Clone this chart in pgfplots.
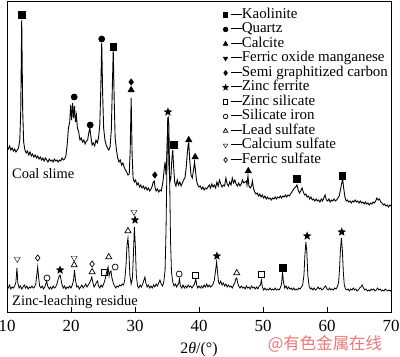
\documentclass[border=0pt]{standalone}
\usepackage{pgfplots}
\pgfplotsset{compat=1.18}
\usepackage{fontspec}
\setmainfont{Liberation Serif}
\newfontfamily\cjk{Noto Sans CJK SC}
\definecolor{wm}{RGB}{236,118,118}
\pgfdeclareplotmark{fstar}{%
  \pgfpathmoveto{\pgfqpointpolar{90}{\pgfplotmarksize}}%
  \pgfpathlineto{\pgfqpointpolar{126}{0.42\pgfplotmarksize}}%
  \pgfpathlineto{\pgfqpointpolar{162}{\pgfplotmarksize}}%
  \pgfpathlineto{\pgfqpointpolar{198}{0.42\pgfplotmarksize}}%
  \pgfpathlineto{\pgfqpointpolar{234}{\pgfplotmarksize}}%
  \pgfpathlineto{\pgfqpointpolar{270}{0.42\pgfplotmarksize}}%
  \pgfpathlineto{\pgfqpointpolar{306}{\pgfplotmarksize}}%
  \pgfpathlineto{\pgfqpointpolar{342}{0.42\pgfplotmarksize}}%
  \pgfpathlineto{\pgfqpointpolar{18}{\pgfplotmarksize}}%
  \pgfpathlineto{\pgfqpointpolar{54}{0.42\pgfplotmarksize}}%
  \pgfpathclose\pgfusepathqfillstroke}
\pgfplotsset{
  mylegend/.style={legend image code/.code={%
    \draw[##1] plot coordinates {(0bp,0bp)};}},
}
\newcommand{\dash}{\rule[3.8bp]{11bp}{0.8bp}}
\begin{document}
\begin{tikzpicture}
\begin{axis}[
  name=ax,
  scale only axis, width=384bp, height=311bp,
  xmin=10, xmax=70, ymin=1, ymax=312, y dir=reverse,
  axis line style={line width=0.9bp},
  xtick={10,20,...,70}, ytick=\empty, xtick pos=left,
  tick align=inside, major tick length=5bp,
  tick style={line width=0.8bp, black},
  /pgf/number format/assume math mode=true,
  xticklabel style={font=\fontsize{17}{18}\selectfont, anchor=base, inner sep=0pt, yshift=-19bp},
  xlabel={\fontsize{16}{18}\selectfont 2\textit{θ}/(°)},
  xlabel style={at={(axis description cs:0.5,0)}, anchor=base, inner sep=0pt, yshift=-41.5bp},
  legend style={draw=none, fill=none, at={(0.554,0.9855)}, anchor=north west,
    font=\fontsize{15}{14.5}\selectfont, row sep=0pt, column sep=2.6bp,
    nodes={inner sep=0pt, text height=10.5bp, text depth=4bp}},
  legend cell align=left,
  mark options={solid, line width=0.7bp},
]
% legend
\addlegendimage{only marks, mark=square*, mark size=2.2bp, fill=black, mylegend}
\addlegendentry{\dash Kaolinite}
\addlegendimage{only marks, mark=*, mark size=2.3bp, fill=black, mylegend}
\addlegendentry{\dash Quartz}
\addlegendimage{only marks, mark=triangle*, mark size=2.6bp, fill=black, mylegend}
\addlegendentry{\dash Calcite}
\addlegendimage{only marks, mark=triangle*, mark size=2.6bp, mark options={rotate=180}, fill=black, mylegend}
\addlegendentry{\dash Ferric oxide manganese}
\addlegendimage{only marks, mark=diamond*, mark size=2.4bp, fill=black, mylegend}
\addlegendentry{\dash Semi graphitized carbon}
\addlegendimage{only marks, mark=fstar, mark size=2.8bp, fill=black, mylegend}
\addlegendentry{\dash Zinc ferrite}
\addlegendimage{only marks, mark=square, mark size=2.2bp, mylegend}
\addlegendentry{\dash Zinc silicate}
\addlegendimage{only marks, mark=o, mark size=2.3bp, mylegend}
\addlegendentry{\dash Silicate iron}
\addlegendimage{only marks, mark=triangle, mark size=2.6bp, mylegend}
\addlegendentry{\dash Lead sulfate}
\addlegendimage{only marks, mark=triangle, mark size=2.6bp, mark options={rotate=180}, mylegend}
\addlegendentry{\dash Calcium sulfate}
\addlegendimage{only marks, mark=diamond, mark size=2.4bp, mylegend}
\addlegendentry{\dash Ferric sulfate}

% Coal slime
\addplot[black, line width=0.9bp, forget plot] coordinates {
(10.0,147)(10.2,149)(10.4,146)(10.6,150)(10.8,148)(11.0,151)(11.2,149)(11.4,152)(11.6,150)(11.8,148)
(12.0,140)(12.15,110)(12.3,20)(12.45,110)(12.6,142)(12.8,150)(13.0,153)(13.2,151)(13.4,155)(13.6,152)
(13.8,156)(14.0,154)(14.2,157)(14.4,155)(14.6,158)(14.8,156)(15.0,159)(15.2,157)(15.4,160)(15.6,158)
(15.8,161)(16.0,158)(16.2,160)(16.4,162)(16.6,159)(16.8,161)(17.0,160)(17.2,162)(17.4,159)(17.6,161)
(17.8,160)(18.0,162)(18.2,160)(18.4,161)(18.6,158)(18.8,160)(19.0,159)(19.2,156)(19.4,145)(19.6,128)
(19.8,122)(19.95,105)(20.1,120)(20.25,103)(20.4,118)(20.55,106)(20.7,122)(20.85,115)(21.0,128)(21.2,132)
(21.4,140)(21.6,138)(21.8,142)(22.0,140)(22.2,144)(22.4,141)(22.6,140)(22.8,132)(22.95,128)(23.1,136)
(23.3,145)(23.5,143)(23.7,146)(23.9,140)(24.1,143)(24.3,138)(24.5,125)(24.65,90)(24.8,43)(24.95,95)
(25.1,128)(25.3,140)(25.5,145)(25.7,148)(25.9,150)(26.1,147)(26.3,130)(26.45,90)(26.6,50)(26.75,100)
(26.9,138)(27.1,150)(27.3,158)(27.5,162)(27.7,160)(27.9,165)(28.1,163)(28.3,167)(28.5,170)(28.7,172)
(28.9,175)(29.1,174)(29.25,150)(29.4,98)(29.55,155)(29.7,178)(29.9,182)(30.1,180)(30.3,185)(30.5,183)
(30.7,187)(30.9,185)(31.1,188)(31.3,186)(31.5,189)(31.7,187)(31.9,190)(32.1,188)(32.3,191)(32.5,189)
(32.7,186)(32.85,182)(33.0,181)(33.15,188)(33.3,191)(33.5,189)(33.7,192)(33.9,190)(34.1,191)(34.25,186)
(34.4,180)(34.55,170)(34.7,162)(34.85,175)(35.0,150)(35.15,117)(35.3,165)(35.45,182)(35.6,178)(35.75,160)
(35.9,150)(36.05,168)(36.2,182)(36.4,186)(36.6,180)(36.8,185)(37.0,182)(37.2,186)(37.4,183)(37.6,180)
(37.8,178)(38.0,168)(38.15,155)(38.3,145)(38.4,143)(38.55,160)(38.75,175)(38.95,178)(39.15,170)(39.3,162)
(39.45,170)(39.6,180)(39.8,185)(40.0,187)(40.2,186)(40.4,189)(40.6,187)(40.8,190)(41.0,188)(41.2,189)
(41.4,187)(41.6,185)(41.8,188)(42.0,184)(42.2,187)(42.4,185)(42.6,188)(42.8,182)(43.0,186)(43.2,180)
(43.4,184)(43.6,187)(43.8,185)(44.0,186)(44.2,178)(44.4,184)(44.6,186)(44.8,182)(45.0,185)(45.2,178)
(45.4,183)(45.6,180)(45.8,184)(46.0,186)(46.2,183)(46.4,186)(46.6,184)(46.8,180)(47.0,183)(47.2,182)
(47.4,181)(47.5,185)(47.65,176)(47.8,186)(48.0,188)(48.2,186)(48.35,181)(48.5,188)(48.7,192)(48.9,194)
(49.1,193)(49.3,196)(49.5,194)(49.7,197)(49.9,195)(50.1,198)(50.3,196)(50.5,199)(50.7,197)(50.9,199)
(51.1,198)(51.3,200)(51.5,198)(51.7,199)(51.9,197)(52.1,199)(52.3,197)(52.5,198)(52.7,196)(52.9,198)
(53.1,196)(53.3,197)(53.5,195)(53.7,197)(53.9,195)(54.1,196)(54.3,194)(54.5,192)(54.7,190)(54.9,188)
(55.1,187)(55.3,185)(55.5,190)(55.7,193)(55.9,191)(56.1,188)(56.3,192)(56.5,195)(56.7,194)(56.9,197)
(57.1,196)(57.3,199)(57.5,197)(57.7,200)(57.9,199)(58.1,201)(58.3,199)(58.5,201)(58.7,200)(58.9,202)
(59.1,199)(59.3,201)(59.5,198)(59.7,195)(59.9,200)(60.1,201)(60.3,199)(60.5,202)(60.7,200)(60.9,201)
(61.1,199)(61.3,201)(61.5,200)(61.7,198)(61.9,196)(62.1,190)(62.3,183)(62.45,179)(62.6,188)(62.8,197)
(63.0,201)(63.2,200)(63.4,202)(63.6,201)(63.8,203)(64.0,201)(64.2,202)(64.4,200)(64.6,202)(64.8,201)
(65.0,203)(65.2,201)(65.4,203)(65.6,202)(65.8,204)(66.0,202)(66.2,204)(66.4,203)(66.6,205)(66.8,203)
(67.0,204)(67.2,202)(67.4,203)(67.6,201)(67.8,198)(68.0,200)(68.2,199)(68.4,202)(68.6,203)(68.8,205)
(69.0,204)(69.2,206)(69.4,205)(69.6,207)(69.8,205)(70.0,206)
};
% Zinc-leaching residue
\addplot[black, line width=0.8bp, forget plot] coordinates {
(10.0,286)(10.2,288)(10.4,285)(10.6,289)(10.8,287)(11.0,288)(11.2,286)(11.4,282)(11.55,268)(11.7,283)
(11.9,288)(12.1,286)(12.3,289)(12.5,287)(12.7,285)(12.9,288)(13.1,286)(13.3,289)(13.5,287)(13.7,288)
(13.9,286)(14.1,288)(14.3,287)(14.5,284)(14.65,275)(14.8,267)(14.95,278)(15.1,286)(15.3,288)(15.5,286)
(15.7,289)(15.9,287)(16.05,284)(16.2,281)(16.35,286)(16.6,289)(16.8,287)(17.0,289)(17.2,286)(17.4,288)
(17.6,287)(17.8,284)(18.0,279)(18.15,276)(18.3,275)(18.45,280)(18.6,285)(18.8,288)(19.0,286)(19.2,289)
(19.4,287)(19.6,288)(19.8,286)(20.0,288)(20.2,285)(20.4,280)(20.55,270)(20.7,280)(20.9,287)(21.1,286)
(21.3,289)(21.5,287)(21.7,285)(21.9,288)(22.1,286)(22.3,284)(22.5,287)(22.7,285)(22.9,283)(23.1,280)
(23.25,277)(23.4,282)(23.6,287)(23.8,285)(24.0,282)(24.15,281)(24.3,286)(24.5,288)(24.7,285)(24.9,287)
(25.1,284)(25.3,280)(25.5,274)(25.65,270)(25.8,267)(25.95,276)(26.1,272)(26.25,271)(26.4,278)(26.6,283)
(26.8,286)(27.0,288)(27.2,286)(27.4,287)(27.6,285)(27.8,286)(28.0,284)(28.2,285)(28.4,280)(28.6,265)
(28.75,245)(28.9,238)(29.05,252)(29.2,275)(29.4,284)(29.6,278)(29.75,255)(29.9,227)(30.05,245)(30.2,275)
(30.4,286)(30.6,288)(30.8,285)(31.0,287)(31.2,284)(31.4,280)(31.55,277)(31.7,283)(31.9,287)(32.1,285)
(32.3,288)(32.5,286)(32.7,288)(32.9,285)(33.1,287)(33.3,284)(33.5,286)(33.7,283)(33.9,280)(34.1,284)
(34.3,286)(34.5,282)(34.7,270)(34.85,230)(35.0,160)(35.1,122)(35.2,118)(35.3,125)(35.4,170)(35.55,240)
(35.7,272)(35.9,282)(36.1,286)(36.3,284)(36.5,287)(36.65,285)(36.8,284)(36.95,279)(37.1,286)(37.3,288)
(37.5,285)(37.7,288)(37.9,286)(38.1,288)(38.3,285)(38.5,287)(38.7,286)(38.9,288)(39.1,286)(39.3,284)
(39.5,279)(39.65,285)(39.8,288)(40.0,286)(40.2,288)(40.4,286)(40.6,288)(40.8,285)(41.0,287)(41.2,284)
(41.4,287)(41.6,285)(41.8,287)(42.0,286)(42.2,284)(42.4,280)(42.6,270)(42.75,262)(42.9,272)(43.05,282)
(43.2,284)(43.4,281)(43.6,285)(43.8,283)(44.0,286)(44.2,284)(44.4,287)(44.6,285)(44.8,287)(45.0,286)
(45.2,288)(45.4,285)(45.6,283)(45.75,279)(45.9,278)(46.05,283)(46.2,286)(46.4,288)(46.6,286)(46.8,288)
(47.0,287)(47.2,289)(47.4,286)(47.6,288)(47.8,287)(48.0,289)(48.2,286)(48.4,288)(48.6,287)(48.8,289)
(49.0,287)(49.2,289)(49.4,286)(49.6,285)(49.75,280)(49.9,287)(50.1,290)(50.3,288)(50.5,290)(50.7,289)
(50.9,290)(51.1,288)(51.3,290)(51.5,289)(51.7,290)(51.9,288)(52.1,290)(52.3,289)(52.5,290)(52.7,288)
(52.9,284)(53.05,272)(53.2,282)(53.4,288)(53.6,286)(53.8,289)(54.0,287)(54.2,289)(54.4,288)(54.6,290)
(54.8,288)(55.0,290)(55.2,289)(55.4,290)(55.6,288)(55.8,289)(56.0,287)(56.2,285)(56.4,275)(56.55,255)
(56.7,242)(56.85,252)(57.0,275)(57.2,286)(57.4,289)(57.6,288)(57.8,290)(58.0,288)(58.2,290)(58.4,289)
(58.6,287)(58.8,289)(59.0,288)(59.2,290)(59.4,289)(59.6,287)(59.8,286)(60.0,289)(60.2,290)(60.4,288)
(60.6,290)(60.8,289)(61.0,290)(61.2,288)(61.4,289)(61.6,287)(61.8,283)(61.95,270)(62.1,250)(62.25,238)
(62.4,250)(62.55,272)(62.7,285)(62.9,289)(63.1,290)(63.3,289)(63.5,291)(63.7,289)(63.9,290)(64.1,288)
(64.3,290)(64.5,289)(64.7,291)(64.9,290)(65.1,288)(65.3,287)(65.5,285)(65.7,288)(65.9,290)(66.1,289)
(66.3,291)(66.5,290)(66.7,291)(66.9,289)(67.1,290)(67.3,289)(67.5,291)(67.7,290)(67.9,288)(68.1,290)
(68.3,289)(68.5,291)(68.7,290)(68.9,291)(69.1,289)(69.3,290)(69.5,291)(69.7,290)(69.9,291)(70.0,290)
};
% phase markers
\addplot[only marks, mark=square*, mark size=3.2bp, fill=black, forget plot] coordinates {(12.3,15)(26.6,47)(36.1,145)(55.3,179)(62.4,176)(53.1,268)};
\addplot[only marks, mark=*, mark size=3bp, fill=black, forget plot] coordinates {(20.5,97)(23.0,125)(24.8,39)};
\addplot[only marks, mark=triangle*, mark size=3.5bp, fill=black, forget plot] coordinates {(29.4,90)(38.4,140)(39.4,157)(47.7,171)};
\addplot[only marks, mark=diamond*, mark size=3bp, fill=black, forget plot] coordinates {(29.4,82)(33.1,175)};
\addplot[only marks, mark=fstar, mark size=3.6bp, fill=black, forget plot] coordinates {(35.15,112)(18.3,270)(30.0,220)(42.8,256)(56.9,236)(62.3,232)};
\addplot[only marks, mark=square, mark size=3bp, forget plot] coordinates {(25.2,272)(39.5,275)(49.7,274)};
\addplot[only marks, mark=o, mark size=3bp, forget plot] coordinates {(16.25,278)(26.9,267)(36.9,274)};
\addplot[only marks, mark=triangle, mark size=3.5bp, forget plot] coordinates {(20.5,265)(23.3,272)(25.9,257)(28.9,231)(45.9,273)};
\addplot[only marks, mark=triangle, mark size=3.5bp, mark options={rotate=180}, forget plot] coordinates {(11.6,259)(20.5,258)(29.85,212)};
\addplot[only marks, mark=diamond, mark size=3bp, forget plot] coordinates {(14.8,258)(23.3,264)};
% labels
\node[anchor=base west, inner sep=0pt, font=\fontsize{14.5}{16}\selectfont] at (axis cs:10.78,178) {Coal slime};
\node[anchor=base west, inner sep=0pt, font=\fontsize{14.5}{16}\selectfont] at (axis cs:10.78,305) {Zinc-leaching residue};
\end{axis}
\node[inner sep=0pt, text height=13bp, text depth=1.5bp, text=wm, font=\cjk\fontsize{16.5}{18}\selectfont] at ([xshift=318bp,yshift=-32bp]ax.south west) {@有色金属在线};
\pgfresetboundingbox
\path[use as bounding box] ([xshift=-7bp,yshift=-45bp]ax.south west) rectangle ([xshift=9bp,yshift=1bp]ax.north east);
\end{tikzpicture}
\end{document}
